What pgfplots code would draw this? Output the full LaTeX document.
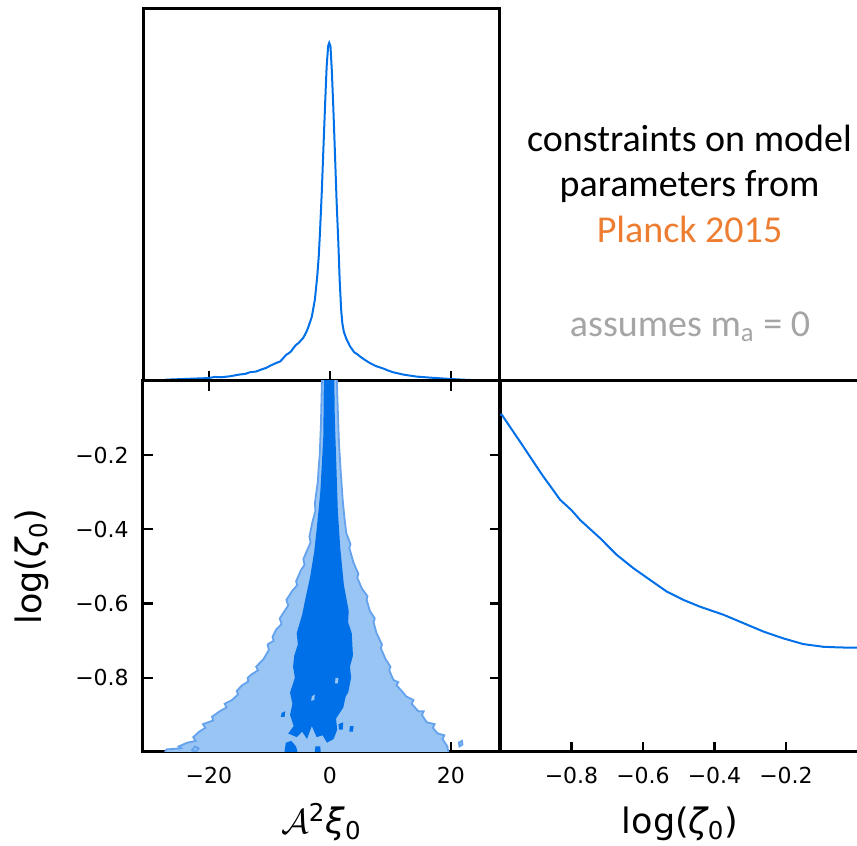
\documentclass[border=0pt]{standalone}
\usepackage{fontspec}
\setmainfont{DejaVu Sans}
\newfontfamily\carlito{Carlito}
\usepackage{pgfplots}
\pgfplotsset{compat=1.18}
\definecolor{cdark}{RGB}{0,112,232}
\definecolor{clight}{RGB}{153,197,245}
\definecolor{cedge}{RGB}{100,162,238}
\definecolor{corange}{RGB}{237,125,49}
\definecolor{cgray}{RGB}{165,165,165}
\pgfplotsset{
  every axis/.append style={
    scale only axis,
    axis line style={line width=1.5pt},
    tick align=inside,
    major tick length=5pt,
    every tick/.style={black,line width=1.1pt},
    tick label style={font=\fontsize{11}{13}\selectfont},
    xticklabel style={anchor=base,yshift=-15.8pt},
    yticklabel style={anchor=east,xshift=-3.6pt},
    every axis x label/.style={at={(axis description cs:0.5,0)},anchor=base,yshift=-40.8pt,font=\fontsize{17.5}{20}\selectfont},
    every axis y label/.style={at={(axis description cs:-0.311,0.5)},rotate=90,anchor=center,font=\fontsize{17.5}{20}\selectfont},
  }
}
\begin{document}
\begin{tikzpicture}
\path[use as bounding box] (0,0) rectangle (428.5pt,423pt);
% ---------------- top 1D panel ----------------
\begin{axis}[at={(71.5pt,232.5pt)},anchor=south west,width=178.5pt,height=186pt,
  xmin=-30.9,xmax=28.1,ymin=0,ymax=1.1,
  xtick={-20,0,20},xticklabels={},ytick=\empty,xtick pos=left]
\addplot[cdark,line width=1pt] coordinates {
(-28,0) (-27,0.004) (-24,0.006) (-21,0.008) (-20,0.009) (-19,0.012) (-18,0.011) (-16.5,0.014) (-15,0.019) (-14,0.021) (-13.2,0.026) (-12.2,0.028) (-11.5,0.033) (-10.5,0.039) (-9.9,0.045) (-8.8,0.054) (-8.2,0.058) (-7.7,0.068) (-7.2,0.078) (-6.9,0.081) (-6.4,0.088) (-6.1,0.096) (-5.6,0.107) (-5.2,0.112) (-4.4,0.128) (-3.9,0.145) (-3.6,0.158) (-3.0,0.19) (-2.5,0.24) (-2.1,0.31) (-1.85,0.37) (-1.65,0.44) (-1.35,0.56) (-1.1,0.68) (-0.8,0.82) (-0.55,0.93) (-0.3,0.99) (-0.12,1.0) (0.08,0.99) (0.3,0.92) (0.55,0.81) (0.83,0.67) (1.1,0.53) (1.38,0.41) (1.6,0.30) (1.85,0.21) (2.05,0.17) (2.3,0.145) (2.7,0.125) (3.3,0.103) (4.0,0.085) (4.6,0.078) (5.0,0.072) (5.8,0.062) (6.6,0.053) (7.6,0.044) (8.8,0.037) (9.6,0.031) (10.4,0.026) (12.1,0.019) (13.2,0.016) (14.3,0.013) (16.5,0.010) (19.8,0.006) (23,0.003) (27.5,0.002) (28.1,0.002)
};
\end{axis}
% ---------------- 2D panel ----------------
\begin{axis}[at={(71.5pt,47pt)},anchor=south west,width=178.5pt,height=185.5pt,
  xmin=-30.9,xmax=28.1,ymin=-1,ymax=0,
  xtick={-20,0,20},xticklabels={−20,0,20},
  ytick={-0.8,-0.6,-0.4,-0.2},yticklabels={−0.8,−0.6,−0.4,−0.2},
  xtick pos=both,ytick pos=both,xticklabel pos=left,yticklabel pos=left,
  xlabel={$\mathcal{A}$\textsuperscript{2}{\itshape ξ}\textsubscript{0}},
  ylabel={log({\itshape ζ}\textsubscript{0})}]
\addplot[fill=clight,draw=cedge,line width=0.9pt] coordinates {
(-1.3,0.02) (-1.5,-0.12) (-1.7,-0.20) (-1.9,-0.24) (-2.0,-0.27) (-2.5,-0.33) (-2.4,-0.35) (-2.9,-0.38) (-3.4,-0.42) (-3.2,-0.435) (-3.6,-0.45) (-4.4,-0.48) (-4.2,-0.495) (-4.8,-0.51) (-5.6,-0.54) (-5.4,-0.55) (-6.2,-0.565) (-7.2,-0.59) (-6.9,-0.605) (-7.5,-0.62) (-8.3,-0.64) (-8.0,-0.655) (-8.9,-0.67) (-9.5,-0.69) (-9.3,-0.70) (-10.3,-0.71) (-10.1,-0.725) (-11.0,-0.75) (-12.2,-0.77) (-11.9,-0.78) (-12.9,-0.79) (-13.6,-0.80) (-13.5,-0.81) (-14.5,-0.82) (-15.4,-0.835) (-15.2,-0.845) (-16.2,-0.86) (-17.4,-0.87) (-17.1,-0.88) (-18.2,-0.89) (-19.5,-0.905) (-19.3,-0.915) (-21.0,-0.925) (-20.6,-0.935) (-21.6,-0.945) (-22.6,-0.96) (-22.2,-0.97) (-23.6,-0.975) (-25.0,-0.985) (-24.6,-0.99) (-27.0,-0.993) (-28,-1.02)
(19.8,-1.02) (19.4,-0.985) (18.6,-0.965) (18.9,-0.955) (17.8,-0.95) (17.0,-0.935) (17.3,-0.925) (16.0,-0.92) (15.2,-0.90) (15.5,-0.89) (14.6,-0.89) (13.5,-0.87) (13.8,-0.86) (12.6,-0.85) (12.1,-0.84) (11.0,-0.82) (11.3,-0.812) (10.5,-0.806) (9.8,-0.78) (10.0,-0.77) (9.2,-0.75) (8.4,-0.72) (8.6,-0.71) (7.7,-0.68) (7.2,-0.65) (7.4,-0.64) (6.6,-0.62) (6.06,-0.59) (6.2,-0.58) (5.3,-0.56) (4.5,-0.53) (4.7,-0.52) (3.9,-0.49) (3.2,-0.45) (3.4,-0.44) (2.7,-0.41) (2.4,-0.37) (2.1,-0.32) (1.8,-0.25) (1.5,-0.17) (1.3,-0.08) (1.1,0.02)
} -- cycle;
\addplot[fill=clight,draw=cedge,line width=0.9pt] coordinates {(-22.8,-0.995) (-22.3,-0.985) (-21.7,-0.99) (-22.2,-1.0)} -- cycle;
\addplot[fill=clight,draw=cedge,line width=0.9pt] coordinates {(21.3,-0.975) (21.8,-0.97) (21.9,-0.98) (21.4,-0.985)} -- cycle;
\addplot[fill=cdark,draw=none] coordinates {
(-1.0,0.02) (-1.1,-0.15) (-1.6,-0.30) (-2.2,-0.40) (-2.6,-0.46) (-3.3,-0.53) (-4.1,-0.59) (-4.6,-0.63) (-5.5,-0.68) (-5.3,-0.71) (-5.9,-0.74) (-6.1,-0.77) (-5.8,-0.80) (-6.6,-0.84) (-6.2,-0.87) (-6.6,-0.90) (-6.0,-0.93) (-6.9,-0.95) (-5.5,-0.96) (-4.6,-0.945) (-3.8,-0.965) (-3.0,-0.93) (-2.2,-0.96) (-1.2,-0.955) (-0.5,-0.975) (0.6,-0.965) (1.2,-0.94) (1.0,-0.91) (2.2,-0.88) (2.6,-0.85) (3.0,-0.84) (3.5,-0.80) (3.3,-0.77) (3.8,-0.74) (3.6,-0.68) (3.0,-0.65) (3.1,-0.62) (2.76,-0.59) (2.3,-0.55) (1.7,-0.45) (1.3,-0.35) (1.0,-0.20) (0.8,-0.10) (0.7,0.02)
} -- cycle;
\addplot[fill=cdark,draw=none] coordinates {(-7.6,-1.01) (-7.3,-0.975) (-6.4,-0.97) (-5.6,-0.985) (-5.2,-1.01)} -- cycle;
\addplot[fill=cdark,draw=none] coordinates {(-2.6,-1.01) (-2.4,-0.985) (-1.6,-0.985) (-1.5,-1.01)} -- cycle;
\addplot[fill=cdark,draw=none] coordinates {(1.4,-0.925) (2.2,-0.92) (2.1,-0.94) (1.5,-0.94)} -- cycle;
\addplot[fill=cdark,draw=none] coordinates {(-8.0,-0.895) (-7.4,-0.89) (-7.5,-0.905) (-8.1,-0.905)} -- cycle;
\addplot[fill=cdark,draw=none] coordinates {(3.3,-0.93) (3.9,-0.93) (3.8,-0.945) (3.2,-0.945)} -- cycle;
\addplot[fill=clight,draw=none] coordinates {(-3.0,-0.85) (-2.5,-0.845) (-2.6,-0.86) (-3.1,-0.862)} -- cycle;
\addplot[fill=clight,draw=none] coordinates {(0.9,-0.80) (1.4,-0.80) (1.3,-0.815) (0.85,-0.815)} -- cycle;
\end{axis}
% ---------------- right 1D panel ----------------
\begin{axis}[at={(250pt,47pt)},anchor=south west,width=180pt,height=185.5pt,
  xmin=-1,xmax=0.007,ymin=0,ymax=1.1,
  xtick={-0.8,-0.6,-0.4,-0.2},xticklabels={−0.8,−0.6,−0.4,−0.2},
  ytick=\empty,xtick pos=left,
  xlabel={log({\itshape ζ}\textsubscript{0})}]
\addplot[cdark,line width=1pt] coordinates {
(-1.0,1.0) (-0.995,1.0) (-0.965,0.953) (-0.935,0.906) (-0.905,0.858) (-0.879,0.817) (-0.855,0.782) (-0.832,0.748) (-0.80,0.717) (-0.776,0.688) (-0.748,0.661) (-0.72,0.634) (-0.674,0.585) (-0.627,0.545) (-0.58,0.51) (-0.534,0.476) (-0.487,0.451) (-0.441,0.431) (-0.375,0.407) (-0.319,0.382) (-0.263,0.357) (-0.208,0.337) (-0.152,0.320) (-0.096,0.312) (-0.05,0.310) (0.007,0.309)
};
\end{axis}
% ---------------- annotation ----------------
\node[anchor=base,font=\carlito\fontsize{19}{22}\selectfont] at (344.75pt,347.15pt) {constraints on model};
\node[anchor=base,font=\carlito\fontsize{19}{22}\selectfont] at (344.75pt,324.65pt) {parameters from};
\node[anchor=base,font=\carlito\fontsize{19}{22}\selectfont,text=corange] at (344.75pt,301.5pt) {Planck 2015};
\node[anchor=base,font=\carlito\fontsize{19}{22}\selectfont,text=cgray] at (345pt,254.65pt) {assumes m\textsubscript{a} = 0};
\end{tikzpicture}
\end{document}
